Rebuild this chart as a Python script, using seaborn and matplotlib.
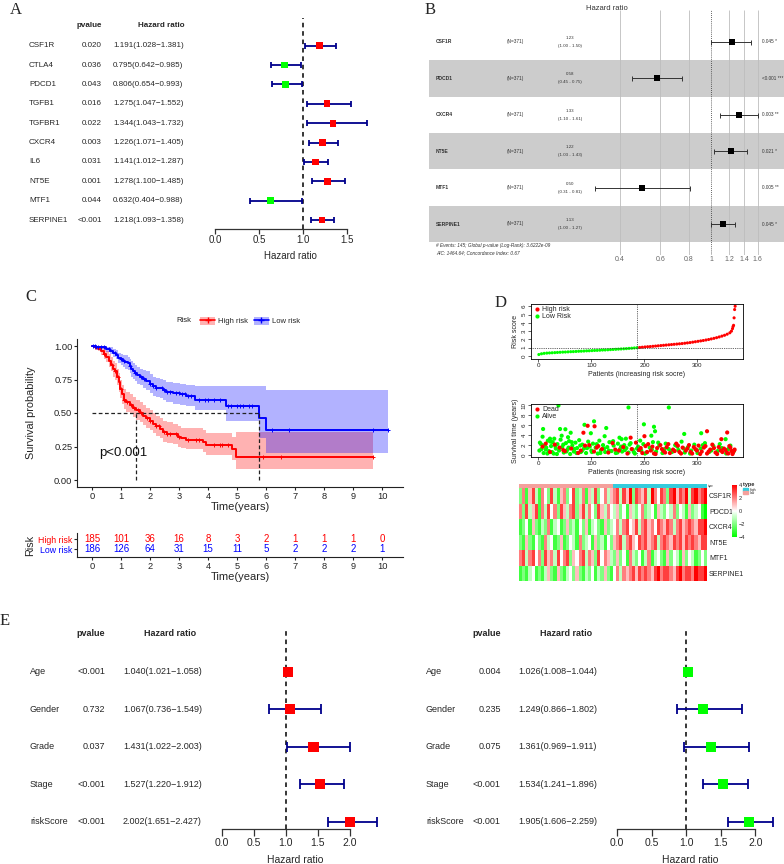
import numpy as np
import pandas as pd
import seaborn as sns
import matplotlib.pyplot as plt
import matplotlib.transforms as mtransforms
from matplotlib.colors import LinearSegmentedColormap, ListedColormap
from matplotlib.patches import Patch
from matplotlib.lines import Line2D

sns.set_style("ticks")
plt.rcParams["font.family"] = ["Liberation Sans", "DejaVu Sans"]

W, H = 784, 864
RED, GREEN, DARKBLUE = "#FF0000", "#00FF00", "#00008B"

# ---------------- data ----------------
# A: univariate cox
genes_a = ["CSF1R", "CTLA4", "PDCD1", "TGFB1", "TGFBR1", "CXCR4", "IL6", "NT5E", "MTF1", "SERPINE1"]
pval_a = ["0.020", "0.036", "0.043", "0.016", "0.022", "0.003", "0.031", "0.001", "0.044", "<0.001"]
hr_a = [1.191, 0.795, 0.806, 1.275, 1.344, 1.226, 1.141, 1.278, 0.632, 1.218]
lo_a = [1.028, 0.642, 0.654, 1.047, 1.043, 1.071, 1.012, 1.100, 0.404, 1.093]
hi_a = [1.381, 0.985, 0.993, 1.552, 1.732, 1.405, 1.287, 1.485, 0.988, 1.358]

# B: multivariate model (ggforest)
genes_b = ["CSF1R", "PDCD1", "CXCR4", "NT5E", "MTF1", "SERPINE1"]
hr_b = [1.23, 0.58, 1.33, 1.22, 0.50, 1.13]
lo_b = [1.00, 0.45, 1.10, 1.03, 0.31, 1.00]
hi_b = [1.50, 0.75, 1.61, 1.43, 0.81, 1.27]
p_b = ["0.045 *", "<0.001 ***", "0.003 **", "0.021 *", "0.005 **", "0.045 *"]

# C: Kaplan-Meier
high_t = [0, 0.10, 0.20, 0.30, 0.40, 0.49, 0.58, 0.67, 0.74, 0.80, 0.86, 0.92, 0.98, 1.04, 1.09, 1.18,
          1.30, 1.42, 1.53, 1.65, 1.76, 1.87, 2.00, 2.10, 2.20, 2.33, 2.45, 2.60, 2.80, 2.95, 3.08,
          3.25, 3.83, 3.94, 4.83, 4.98, 9.70]
high_s = [1.00, 0.99, 0.98, 0.96, 0.94, 0.92, 0.89, 0.86, 0.83, 0.81, 0.77, 0.73, 0.68, 0.64, 0.60,
          0.58, 0.56, 0.54, 0.52, 0.50, 0.48, 0.46, 0.44, 0.42, 0.40, 0.38, 0.355, 0.345, 0.34, 0.32,
          0.31, 0.30, 0.28, 0.26, 0.23, 0.17, 0.17]
high_lo = [1.00, 0.98, 0.96, 0.93, 0.90, 0.88, 0.84, 0.81, 0.77, 0.75, 0.71, 0.66, 0.61, 0.57, 0.53,
           0.51, 0.49, 0.47, 0.45, 0.43, 0.41, 0.39, 0.37, 0.35, 0.33, 0.31, 0.285, 0.275, 0.27, 0.25,
           0.24, 0.23, 0.21, 0.19, 0.15, 0.08, 0.08]
high_hi = [1.00, 1.00, 1.00, 0.99, 0.98, 0.96, 0.94, 0.92, 0.89, 0.87, 0.83, 0.80, 0.75, 0.71, 0.68,
           0.66, 0.64, 0.62, 0.60, 0.58, 0.56, 0.54, 0.52, 0.50, 0.48, 0.46, 0.44, 0.43, 0.42, 0.40,
           0.39, 0.39, 0.37, 0.35, 0.32, 0.36, 0.36]
low_t = [0, 0.15, 0.30, 0.49, 0.62, 0.72, 0.82, 0.90, 1.00, 1.07, 1.15, 1.24, 1.30, 1.36, 1.42, 1.47,
         1.55, 1.64, 1.75, 1.87, 2.00, 2.10, 2.20, 2.33, 2.45, 2.56, 2.79, 3.02, 3.25, 3.54, 4.63,
         5.75, 6.01, 10.2]
low_s = [1.00, 0.995, 0.99, 0.975, 0.965, 0.95, 0.935, 0.91, 0.90, 0.89, 0.88, 0.87, 0.85, 0.83, 0.815,
         0.80, 0.785, 0.77, 0.755, 0.74, 0.72, 0.70, 0.69, 0.685, 0.67, 0.66, 0.65, 0.64, 0.63, 0.60,
         0.555, 0.46, 0.37, 0.37]
low_lo = [1.00, 0.985, 0.975, 0.955, 0.94, 0.92, 0.90, 0.87, 0.86, 0.84, 0.83, 0.82, 0.80, 0.77, 0.755,
          0.74, 0.72, 0.71, 0.69, 0.67, 0.65, 0.63, 0.62, 0.61, 0.60, 0.58, 0.57, 0.56, 0.55, 0.52,
          0.44, 0.31, 0.20, 0.20]
low_hi = [1.00, 1.00, 1.00, 0.995, 0.99, 0.98, 0.97, 0.95, 0.94, 0.935, 0.93, 0.92, 0.905, 0.885, 0.87,
          0.86, 0.845, 0.83, 0.82, 0.81, 0.79, 0.77, 0.76, 0.755, 0.745, 0.735, 0.725, 0.72, 0.71,
          0.70, 0.70, 0.70, 0.675, 0.675]
high_cens = [0.1, 0.4, 0.7, 0.8, 0.9, 1.0, 1.1, 1.2, 1.35, 1.45, 1.6, 1.7, 1.9, 2.0, 2.2, 2.3, 2.5, 2.6,
             2.7, 2.9, 3.0, 3.3, 3.6, 3.7, 4.2, 4.4, 4.5, 4.7, 5.9, 6.5, 9.7]
low_cens = [0.05, 0.1, 0.15, 0.2, 0.3, 0.4, 0.6, 0.8, 1.0, 1.1, 1.3, 1.5, 1.7, 1.8, 2.0, 2.1, 2.2, 2.4,
            2.5, 2.6, 2.7, 2.9, 3.0, 3.1, 3.2, 3.3, 3.4, 3.7, 3.9, 4.0, 4.2, 4.4, 4.7, 4.8, 5.0, 5.1,
            5.2, 5.4, 5.5, 6.2, 6.8, 9.7, 10.2]
median_high, median_low = 1.53, 5.75
risk_times = list(range(11))
n_high = [185, 101, 36, 16, 8, 3, 2, 1, 1, 1, 0]
n_low = [186, 126, 64, 31, 15, 11, 5, 2, 2, 2, 1]

# D: risk score curve (every 5th patient, tail individually)
rs_idx = [1, 6, 11, 16, 21, 26, 31, 36, 41, 46, 51, 56, 61, 66, 71, 76, 81, 86, 91, 96, 101, 106, 111,
          116, 121, 126, 131, 136, 141, 146, 151, 156, 161, 166, 171, 176, 181, 186, 191, 196, 201, 206,
          211, 216, 221, 226, 231, 236, 241, 246, 251, 256, 261, 266, 271, 276, 281, 286, 291, 296, 301,
          306, 311, 316, 321, 326, 331, 336, 341, 346, 351, 356, 361, 364, 366, 367, 368, 369, 370, 371]
rs_val = [0.18, 0.27, 0.32, 0.35, 0.37, 0.39, 0.41, 0.43, 0.45, 0.47, 0.48, 0.50, 0.52, 0.53, 0.55, 0.57,
          0.58, 0.60, 0.62, 0.63, 0.65, 0.67, 0.68, 0.70, 0.72, 0.73, 0.75, 0.77, 0.79, 0.81, 0.83, 0.85,
          0.87, 0.89, 0.92, 0.94, 0.97, 1.00, 1.03, 1.06, 1.09, 1.12, 1.14, 1.17, 1.20, 1.23, 1.26, 1.29,
          1.32, 1.35, 1.38, 1.41, 1.44, 1.47, 1.50, 1.54, 1.58, 1.62, 1.67, 1.72, 1.77, 1.82, 1.87, 1.93,
          1.99, 2.06, 2.13, 2.21, 2.30, 2.40, 2.50, 2.63, 2.80, 3.00, 3.30, 3.55, 3.70, 4.60, 5.60, 6.00]
cut_idx, cut_score = 186, 1.0

alive_idx = [38, 170, 246, 9, 41, 51, 61, 87, 105, 128, 99, 199, 218, 220, 213, 275, 307, 353, 8, 22,
             30, 44, 56, 125, 153, 157, 165,
             3, 6, 10, 12, 15, 18, 20, 24, 27, 29, 33, 36, 39, 42, 45, 48, 52, 55, 58, 60, 64, 67, 70,
             73, 77, 80, 83, 86, 90, 94, 97, 100, 103, 108, 112, 115, 118, 122, 126, 130, 134, 138,
             142, 146, 150, 154, 158, 162, 166, 170, 174, 178, 182, 188, 194, 198, 204, 210, 216, 222,
             228, 234, 240, 246, 252, 258, 264, 270, 276, 282, 288, 294, 300, 306, 314, 322, 330, 338,
             346, 354, 362, 368,
             2, 5, 14, 17, 23, 26, 32, 35, 47, 53, 57, 63, 68, 72, 79, 82, 92, 101, 110, 117, 124, 133,
             141, 149, 156, 163, 172, 180, 186, 192, 201, 214, 226, 238, 250, 262, 274, 286, 298, 310,
             326, 342, 358]
alive_time = [10.0, 9.6, 9.6, 5.25, 5.25, 5.2, 4.5, 6.1, 6.8, 5.45, 4.4, 6.2, 5.7, 4.8, 3.9, 4.25, 4.4,
              3.2, 3.7, 3.3, 3.3, 3.9, 3.6, 3.8, 3.5, 3.2, 3.3,
              2.5, 1.2, 0.4, 2.0, 1.5, 2.9, 0.8, 1.8, 2.6, 0.3, 1.3, 2.2, 0.9, 3.1, 1.6, 0.5, 2.4, 1.1,
              2.8, 0.2, 1.9, 0.7, 2.5, 1.4, 3.0, 0.6, 2.1, 1.3, 0.4, 2.7, 1.7, 0.9, 2.3, 1.5, 0.3, 2.9,
              1.0, 2.0, 0.6, 1.6, 2.6, 0.8, 1.9, 0.4, 2.3, 1.2, 0.7, 2.0, 1.4, 0.5, 2.4, 1.1, 0.3, 1.7,
              0.9, 2.2, 0.5, 1.5, 2.6, 0.7, 1.9, 0.4, 2.3, 1.2, 0.6, 2.0, 1.0, 2.7, 0.5, 1.6, 0.9, 2.1,
              0.4, 1.3, 2.4, 0.6, 1.8, 0.8, 1.4, 0.3, 1.9, 0.7,
              0.9, 2.2, 1.1, 0.3, 2.7, 0.6, 1.8, 0.2, 2.1, 0.7, 1.5, 2.6, 1.2, 0.4, 1.9, 0.8, 1.4, 0.6,
              2.2, 0.4, 1.3, 0.9, 2.8, 0.5, 1.7, 1.0, 2.1, 0.6, 1.3, 2.9, 0.3, 1.1, 2.5, 1.2, 0.8, 1.7,
              1.3, 0.3, 1.0, 2.0, 0.9, 2.2, 1.2]
dead_idx = [93, 106, 85, 200, 318, 356, 345, 174,
            8, 22, 31, 40, 50, 62, 75, 88, 96, 105, 113, 120, 132, 140, 152, 160, 168, 176, 184, 190,
            196, 202, 207, 212, 218, 224, 230, 236, 242, 248, 254, 260, 266, 272, 278, 284, 290, 296,
            302, 308, 312, 318, 324, 328, 334, 340, 344, 350, 356, 360, 364, 366, 370,
            193, 205, 215, 221, 233, 239, 245, 257, 263, 269, 281, 287, 293, 299, 305, 315, 321, 331,
            337, 347, 353, 358, 362, 367, 369, 14, 47, 80, 110, 145]
dead_time = [5.9, 5.8, 4.5, 3.8, 4.8, 4.55, 3.2, 3.5,
             1.7, 0.6, 2.1, 1.5, 0.8, 1.3, 0.4, 1.9, 2.0, 0.7, 1.8, 1.2, 0.5, 2.4, 0.9, 1.6, 0.3, 1.2,
             2.5, 1.0, 0.4, 1.8, 2.2, 0.9, 0.3, 1.4, 2.0, 0.8, 1.6, 0.4, 1.1, 2.3, 0.6, 1.5, 0.9, 2.0,
             0.3, 1.2, 1.9, 0.7, 1.5, 0.3, 1.1, 2.1, 0.5, 1.6, 0.9, 1.3, 0.4, 1.8, 0.8, 0.2, 1.1,
             1.4, 0.6, 1.7, 0.2, 1.2, 0.5, 2.2, 0.8, 1.9, 0.3, 1.3, 0.6, 1.6, 0.9, 0.2, 1.8, 0.7, 1.4,
             0.2, 0.6, 1.0, 0.3, 1.5, 0.5, 0.9, 2.3, 1.0, 0.9, 1.5, 1.1]

# heatmap, 60 blocks of patients ordered by risk (first 30 low risk)
hm_genes = ["CSF1R", "PDCD1", "CXCR4", "NT5E", "MTF1", "SERPINE1"]
hm_csf1r = [-2, 2, -3, 1, 3, -1, -3, 2, 0, -2, 3, -1, -3, 1, 2, -2, 0, 3, -2, -1,
            2, -3, 1, -1, 3, -2, 0, 2, -1, 1,
            2, 3, -1, 3, 1, 4, -2, 3, 2, 1, 3, -1, 4, 2, 0, 3, 2, -2, 3, 4,
            1, 3, 2, 4, -1, 3, 4, 2, 3, 4]
hm_pdcd1 = [2, -2, 3, -1, 1, 3, -3, 2, -1, 3, 0, 2, -2, 3, 1, -1, 2, 3, -2, 1,
            3, -1, 2, 0, -2, 3, 1, -1, 2, 0,
            -1, 1, -2, 0, -3, 1, -1, -2, 0, 2, -2, -1, 0, -3, 1, -1, -2, 0, -1, 2,
            -2, 0, -1, -3, 1, -2, -1, 0, -3, -4]
hm_cxcr4 = [-3, -2, 0, -3, 1, -2, -3, -1, -2, 2, -3, -1, 0, -3, -2, 1, -2, -1, -3, 0,
            -2, 1, -3, -1, 0, -2, -3, 1, -2, -1,
            0, 2, -1, 2, 3, 0, 1, 3, -1, 2, 3, 1, 2, 0, 3, 2, 1, 3, 2, -1,
            2, 3, 1, 2, 3, 2, 1, 3, 3, 4]
hm_nt5e = [-2, -3, 1, -2, -3, 0, -2, -3, 2, -1, 0, -3, -2, 1, -3, -2, 0, -1, -3, 2,
           -2, -1, 0, -3, 1, -2, -1, -3, 0, -2,
           1, 2, 3, -1, 2, 3, 1, 0, 3, 2, 3, 1, 2, 3, -1, 2, 3, 2, 1, 3,
           2, 3, 1, 3, 2, 3, 2, 1, 3, 3]
hm_mtf1 = [2, 3, -1, 2, 3, 0, 2, -2, 3, 1, 2, -1, 3, 0, 2, 3, -2, 1, 0, 2,
           3, -1, 2, 1, -2, 3, 0, 2, 1, -1,
           -2, 1, -2, 0, -3, 2, -1, -2, 0, -3, -1, 2, -3, -1, 0, -2, -3, 1, -2, 0,
           -1, -3, 1, -2, 0, -1, -3, -2, 0, -2]
hm_serpine1 = [-3, -2, -3, -1, 0, -3, -2, -3, -1, 1, -2, -3, 1, -2, -3, -1, 0, -2, 1, -2,
               -3, -1, -2, 0, -3, -1, -2, 1, -2, -3,
               0, 2, -1, 2, 1, 2, 3, 1, 3, 2, 3, 2, 1, 3, 4, 2, 3, 3, 2, 1,
               3, 4, 2, 3, 3, 2, 4, 3, 3, 4]
hm_type = ["low"] * 30 + ["high"] * 30

# E: univariate / multivariate clinical cox
vars_e = ["Age", "Gender", "Grade", "Stage", "riskScore"]
pval_e1 = ["<0.001", "0.732", "0.037", "<0.001", "<0.001"]
hr_e1 = [1.040, 1.067, 1.431, 1.527, 2.002]
lo_e1 = [1.021, 0.736, 1.022, 1.220, 1.651]
hi_e1 = [1.058, 1.549, 2.003, 1.912, 2.427]
pval_e2 = ["0.004", "0.235", "0.075", "<0.001", "<0.001"]
hr_e2 = [1.026, 1.249, 1.361, 1.534, 1.905]
lo_e2 = [1.008, 0.866, 0.969, 1.241, 1.606]
hi_e2 = [1.044, 1.802, 1.911, 1.896, 2.259]

# ---------------- figure ----------------
fig = plt.figure(figsize=(W / 100, H / 100), dpi=100)


def px_axes(x0, y0, x1, y1):
    return fig.add_axes([x0 / W, 1 - y1 / H, (x1 - x0) / W, (y1 - y0) / H])


def fx(x):
    return x / W


def fy(y):
    return 1 - y / H


def forest(box, zero_px, unit_px, row0, step, head_px, names, pvals, hr, lo, hi, color,
           cols, ticks, fs, tfs, ms, cap, lpad):
    x0, y0, x1, y1 = box
    ax = px_axes(*box)
    rows = np.arange(len(names))
    hr, lo, hi = np.asarray(hr), np.asarray(lo), np.asarray(hi)
    ax.errorbar(hr, rows, xerr=[hr - lo, hi - hr], fmt="none", ecolor=DARKBLUE,
                elinewidth=1.3, capsize=cap, capthick=1.3, zorder=2)
    df = pd.DataFrame({"hr": hr, "row": rows, "c": color})
    sns.scatterplot(data=df, x="hr", y="row", hue="c", palette={"r": RED, "g": GREEN},
                    marker="s", s=ms, linewidth=0, legend=False, zorder=3, ax=ax)
    ax.axvline(1, color="black", ls=(0, (3, 2.5)), lw=1.1, zorder=1)
    ax.set_xlim((x0 - zero_px) / unit_px, (x1 - zero_px) / unit_px)
    ax.set_ylim((y1 - row0) / step, (y0 - row0) / step)
    for s in ["top", "right", "left"]:
        ax.spines[s].set_visible(False)
    ax.spines["bottom"].set_bounds(ticks[0], ticks[-1])
    ax.spines["bottom"].set_color("#333333")
    ax.spines["bottom"].set_linewidth(0.9)
    ax.set_xticks(ticks)
    ax.set_xticklabels([f"{t:.1f}" for t in ticks])
    ax.tick_params(axis="x", labelsize=tfs, length=cap * 1.4, width=0.9, color="#333333", pad=1.2)
    ax.set_yticks([])
    ax.set_ylabel("")
    ax.set_xlabel("Hazard ratio", fontsize=tfs, labelpad=lpad)
    tr = mtransforms.blended_transform_factory(fig.transFigure, ax.transData)
    xn, xp, xh, xhh = cols
    for i in rows:
        ax.text(fx(xn), i, names[i], transform=tr, ha="left", va="center", fontsize=fs)
        ax.text(fx(xp), i, pvals[i], transform=tr, ha="right", va="center", fontsize=fs)
        ax.text(fx(xh), i, f"{hr[i]:.3f}({lo[i]:.3f}\u2212{hi[i]:.3f})", transform=tr,
                ha="left", va="center", fontsize=fs)
    hrow = (head_px - row0) / step
    ax.text(fx(xp), hrow, "pvalue", transform=tr, ha="right", va="center", fontsize=fs, weight="bold")
    ax.text(fx(xhh), hrow, "Hazard ratio", transform=tr, ha="right", va="center", fontsize=fs,
            weight="bold")
    return ax


# ---- A ----
col_a = ["r" if h > 1 else "g" for h in hr_a]
forest((200, 18, 380, 228.7), 215, 87.8, 45.7, 19.37, 26, genes_a, pval_a, hr_a, lo_a, hi_a,
       col_a, (29, 102, 113, 185), [0, 0.5, 1.0, 1.5], 5.8, 7, 23, 2.4, 4.5)

# ---- E ----
forest((205, 630, 385, 829.3), 221.7, 64.15, 671.7, 37.5, 634, vars_e, pval_e1, hr_e1, lo_e1,
       hi_e1, ["r"] * 5, (30, 105, 123, 196), [0, 0.5, 1.0, 1.5, 2.0], 6.5, 7.5, 52, 3.4, 5)
forest((600, 630, 780, 829.3), 617.3, 69.0, 671.7, 37.5, 634, vars_e, pval_e2, hr_e2, lo_e2,
       hi_e2, ["g"] * 5, (426, 500.7, 518.3, 591.7), [0, 0.5, 1.0, 1.5, 2.0], 6.5, 7.5, 52, 3.4, 5)

# ---- B ----
axb = px_axes(429, 10, 784, 255)
axb.set_xscale("log")
rows_b = np.arange(len(genes_b))
for i in rows_b:
    if i % 2 == 1:
        axb.axhspan(i - 0.5, i + 0.5, color="#CCCCCC", lw=0, zorder=0)
axb.vlines([0.4, 0.6, 0.8, 1.2, 1.4, 1.6], -0.88, 5.86, color="#BDBDBD", lw=0.6, zorder=1)
axb.axvline(1, color="#333333", ls=(0, (1, 1.5)), lw=0.6, zorder=1)
hb, lb, ub = np.asarray(hr_b), np.asarray(lo_b), np.asarray(hi_b)
axb.errorbar(hb, rows_b, xerr=[hb - lb, ub - hb], fmt="none", ecolor="#333333", elinewidth=0.7,
             capsize=1.8, capthick=0.7, zorder=2)
sns.scatterplot(x=hb, y=rows_b, marker="s", s=16, color="black", linewidth=0, zorder=3, ax=axb)
axb.set_xlim(np.exp((429 - 711) / 99.3), np.exp((784 - 711) / 99.3))
axb.set_ylim((255 - 42) / 36.4, (10 - 42) / 36.4)
axb.set_xticks([0.4, 0.6, 0.8, 1, 1.2, 1.4, 1.6])
axb.set_xticklabels(["0.4", "0.6", "0.8", "1", "1.2", "1.4", "1.6"])
axb.minorticks_off()
axb.tick_params(axis="x", length=0, labelsize=5, labelcolor="#666666", pad=1)
axb.set_yticks([])
for s in axb.spines.values():
    s.set_visible(False)
trb = mtransforms.blended_transform_factory(fig.transFigure, axb.transData)
for i in rows_b:
    axb.text(fx(436), i, genes_b[i], transform=trb, ha="left", va="center", fontsize=3.6,
             weight="bold", color="#333333")
    axb.text(fx(507), i, "(N=371)", transform=trb, ha="left", va="center", fontsize=3.4,
             color="#333333")
    axb.text(fx(570), i - 0.11, f"{hr_b[i]:.2f}", transform=trb, ha="center", va="center",
             fontsize=3.2, color="#333333")
    axb.text(fx(570), i + 0.11, f"({lo_b[i]:.2f} - {hi_b[i]:.2f})", transform=trb, ha="center",
             va="center", fontsize=3.2, color="#333333")
    axb.text(fx(762), i, p_b[i], transform=trb, ha="left", va="center", fontsize=3.4,
             color="#333333")
axb.text(fx(436), (246 - 42) / 36.4, "# Events: 145; Global p-value (Log-Rank): 3.6222e-09",
         transform=trb, ha="left", va="center", fontsize=3.4, style="italic", color="#333333")
axb.text(fx(436), (253 - 42) / 36.4, "AIC: 1464.64; Concordance Index: 0.67",
         transform=trb, ha="left", va="center", fontsize=3.4, style="italic", color="#333333")
fig.text(fx(607), fy(8), "Hazard ratio", ha="center", va="center", fontsize=5.5, color="#333333")

# ---- C: KM ----
axc = px_axes(77.2, 339.3, 402.6, 486.7)
km = [("High risk", RED, high_t, high_s, high_lo, high_hi, high_cens),
      ("Low risk", "#0000FF", low_t, low_s, low_lo, low_hi, low_cens)]
for name, col, t, s, lo, hi, cens in km:
    axc.fill_between(t, lo, hi, step="post", color=col, alpha=0.3, lw=0)
    sns.lineplot(x=t, y=s, drawstyle="steps-post", color=col, lw=1.4, ax=axc)
    t_arr, s_arr = np.asarray(t), np.asarray(s)
    pos = np.searchsorted(t_arr, cens, side="right") - 1
    axc.scatter(cens, s_arr[pos], marker="+", s=8, color=col, lw=0.7, zorder=4)
axc.plot([0, median_low], [0.5, 0.5], color="#222222", ls=(0, (3, 2)), lw=0.9)
for m in (median_high, median_low):
    axc.plot([m, m], [0, 0.5], color="#222222", ls=(0, (3, 2)), lw=0.9)
axc.text(0.23, 0.2, "p<0.001", fontsize=9.5, ha="left", va="center", color="#111111")
axc.set_xlim(-0.51, 10.71)
axc.set_ylim(-0.05, 1.05)
axc.set_xticks(risk_times)
axc.set_yticks([0, 0.25, 0.5, 0.75, 1.0])
axc.set_yticklabels([f"{v:.2f}" for v in [0, 0.25, 0.5, 0.75, 1.0]])
axc.tick_params(labelsize=6.7, length=2.5, width=0.8, pad=1, colors="#222222")
axc.set_xlabel("Time(years)", fontsize=8, labelpad=1)
axc.set_ylabel("Survival probability", fontsize=7.8, labelpad=13)
for s in ["top", "right"]:
    axc.spines[s].set_visible(False)
for s in ["left", "bottom"]:
    axc.spines[s].set_linewidth(0.8)
    axc.spines[s].set_color("#222222")

handles = [(Patch(facecolor=RED, alpha=0.3, edgecolor="none"),
            Line2D([], [], color=RED, marker="+", lw=1.2, markersize=5)),
           (Patch(facecolor="#0000FF", alpha=0.3, edgecolor="none"),
            Line2D([], [], color="#0000FF", marker="+", lw=1.2, markersize=5))]
fig.legend(handles, ["High risk", "Low risk"], loc="center left", bbox_to_anchor=(fx(193), fy(321)),
           ncol=2, frameon=False, fontsize=5.5, handlelength=2.0, handleheight=1.3,
           columnspacing=0.7, handletextpad=0.4)
fig.text(fx(176), fy(321), "Risk", fontsize=5.5, va="center", color="#222222")

# risk table
axr = px_axes(77.2, 533, 402.6, 557)
for t, a, b in zip(risk_times, n_high, n_low):
    axr.text(t, 1, str(a), color=RED, ha="center", va="center", fontsize=7)
    axr.text(t, 0, str(b), color="#0000FF", ha="center", va="center", fontsize=7)
axr.set_xlim(-0.51, 10.71)
axr.set_ylim(-0.77, 1.63)
axr.set_xticks(risk_times)
axr.set_yticks([1, 0])
axr.set_yticklabels(["High risk", "Low risk"])
for lab, c in zip(axr.get_yticklabels(), [RED, "#0000FF"]):
    lab.set_color(c)
axr.tick_params(labelsize=6.7, length=2.5, width=0.8, pad=1)
axr.tick_params(axis="y", labelsize=6.3)
axr.set_xlabel("Time(years)", fontsize=8, labelpad=1)
axr.set_ylabel("Risk", fontsize=7.8, labelpad=2)
for s in ["top", "right"]:
    axr.spines[s].set_visible(False)
for s in ["left", "bottom"]:
    axr.spines[s].set_linewidth(0.8)
    axr.spines[s].set_color("#222222")

# ---- D ----
def d_style(ax):
    for s in ax.spines.values():
        s.set_visible(True)
        s.set_linewidth(0.6)
        s.set_color("black")
    ax.tick_params(labelsize=4.5, length=2, width=0.5, pad=1, colors="#222222")
    plt.setp(ax.get_yticklabels(), rotation=90, va="center")


axd1 = px_axes(531, 304, 743, 359)
rs = pd.DataFrame({"patient": rs_idx, "score": rs_val})
rs["group"] = np.where(rs["patient"] <= cut_idx, "Low Risk", "High risk")
sns.scatterplot(data=rs, x="patient", y="score", hue="group",
                palette={"High risk": RED, "Low Risk": GREEN}, s=5, linewidth=0, legend=False, ax=axd1)
axd1.axvline(cut_idx + 0.5, color="#333333", ls=(0, (1, 1.2)), lw=0.6)
axd1.axhline(cut_score, color="#333333", ls=(0, (1, 1.2)), lw=0.6)
axd1.set_xlim(-13.8, 385.8)
axd1.set_ylim(-0.36, 6.27)
axd1.set_xticks([0, 100, 200, 300])
axd1.set_yticks(range(7))
axd1.set_xlabel("Patients (increasing risk socre)", fontsize=5, labelpad=2)
axd1.set_ylabel("Risk score", fontsize=5, labelpad=2)
d_style(axd1)
dot = dict(marker="o", color="none", markeredgecolor="none", markersize=3)
axd1.legend(handles=[Line2D([], [], markerfacecolor=RED, label="High risk", **dot),
                     Line2D([], [], markerfacecolor=GREEN, label="Low Risk", **dot)],
            loc="upper left", fontsize=5, frameon=False, handletextpad=0.3, borderaxespad=0.1,
            labelspacing=0.05, handlelength=1.0, borderpad=0.2)

axd2 = px_axes(531, 404, 743, 457)
sv = pd.DataFrame({"patient": alive_idx + dead_idx, "time": alive_time + dead_time,
                   "status": ["Alive"] * len(alive_idx) + ["Dead"] * len(dead_idx)})
sns.scatterplot(data=sv, x="patient", y="time", hue="status", palette={"Dead": RED, "Alive": GREEN},
                s=9, linewidth=0, legend=False, ax=axd2)
axd2.axvline(cut_idx + 0.5, color="#333333", ls=(0, (1, 1.2)), lw=0.6)
axd2.set_xlim(-13.8, 385.8)
axd2.set_ylim(-0.4, 10.3)
axd2.set_xticks([0, 100, 200, 300])
axd2.set_yticks([0, 2, 4, 6, 8, 10])
axd2.set_xlabel("Patients (increasing risk socre)", fontsize=5, labelpad=2)
axd2.set_ylabel("Survival time (years)", fontsize=5, labelpad=2)
d_style(axd2)
axd2.legend(handles=[Line2D([], [], markerfacecolor=RED, label="Dead", **dot),
                     Line2D([], [], markerfacecolor=GREEN, label="Alive", **dot)],
            loc="upper left", fontsize=5, frameon=False, handletextpad=0.3, borderaxespad=0.1,
            labelspacing=0.05, handlelength=1.0, borderpad=0.2)

# heatmap
hm = pd.DataFrame([hm_csf1r, hm_pdcd1, hm_cxcr4, hm_nt5e, hm_mtf1, hm_serpine1], index=hm_genes)
gwr = LinearSegmentedColormap.from_list("gwr", [GREEN, "#FFFFFF", RED])
axh = px_axes(519, 488, 707, 581)
sns.heatmap(hm, cmap=gwr, vmin=-4, vmax=4, cbar=False, xticklabels=False, ax=axh)
axh.yaxis.tick_right()
axh.set_yticks(np.arange(len(hm_genes)) + 0.5)
axh.set_yticklabels(hm_genes, rotation=0, fontsize=5)
axh.tick_params(length=0, pad=1.5)

axa = px_axes(519, 484.5, 707, 488)
type_code = [[1 if v == "high" else 0 for v in hm_type]]
ann_cols = ["#F4A09C", "#33CCDD"]
sns.heatmap(type_code, cmap=ListedColormap(ann_cols), cbar=False, xticklabels=False,
            yticklabels=False, ax=axa)
fig.text(fx(708), fy(486), "type", fontsize=2.2, va="center")

cax = px_axes(732, 485, 737, 537)
cb = fig.colorbar(axh.collections[0], cax=cax, ticks=[-4, -2, 0, 2, 4])
cb.outline.set_visible(False)
cax.tick_params(labelsize=4, length=0, pad=1)
fig.text(fx(743), fy(484), "type", fontsize=4, weight="bold", va="center")
for k, (lab, c) in enumerate(zip(["high", "low"], ann_cols[::-1])):
    fig.patches.append(plt.Rectangle((fx(743), fy(491 + 3 * k)), 5 / W, 3 / H,
                                     transform=fig.transFigure, color=c))
    fig.text(fx(749.5), fy(489.5 + 3 * k), lab, fontsize=2.5, va="center")

# ---- panel letters ----
for lab, x, y in [("A", 16, 10), ("B", 430, 10), ("C", 31, 297), ("D", 501, 303), ("E", 5, 621)]:
    fig.text(fx(x), fy(y), lab, family="Liberation Serif", fontsize=12, ha="center", va="center")

fig.savefig("out.png", dpi=100)
